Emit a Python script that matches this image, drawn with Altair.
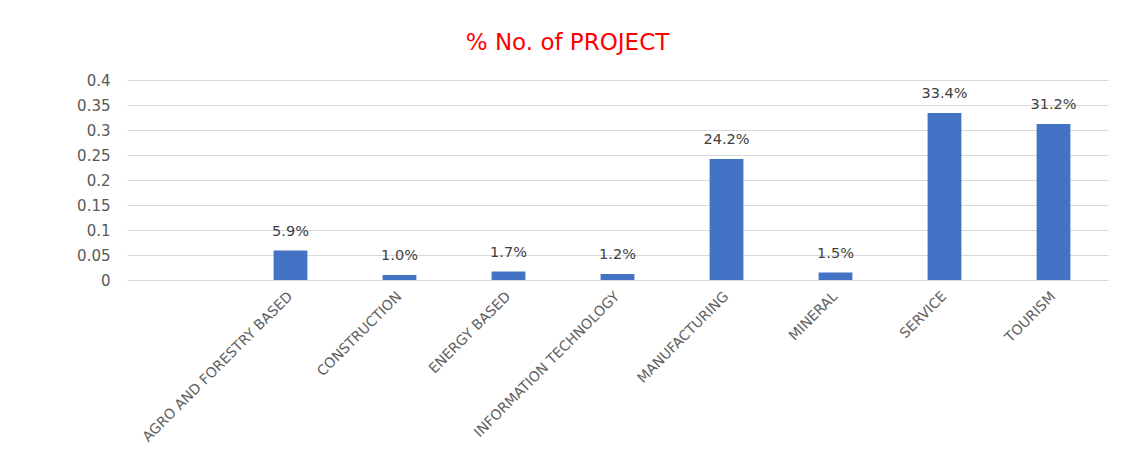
import altair as alt
import pandas as pd

categories = ["AGRO AND FORESTRY BASED", "CONSTRUCTION", "ENERGY BASED",
              "INFORMATION TECHNOLOGY", "MANUFACTURING", "MINERAL", "SERVICE", "TOURISM"]
values = [0.059, 0.010, 0.017, 0.012, 0.242, 0.015, 0.334, 0.312]
tick_values = [0, 0.05, 0.1, 0.15, 0.2, 0.25, 0.3, 0.35, 0.4]
domain = [" "] + categories

df = pd.DataFrame({"sector": categories, "share": values})

FONT = "DejaVu Sans"

x = alt.X("sector:N", sort=domain,
          scale=alt.Scale(domain=domain, paddingInner=0.69, paddingOuter=0.345),
          axis=alt.Axis(title=None, labelAngle=-45, labelAlign="right", labelBaseline="middle",
                        labelFontSize=14, labelColor="#5f5f5f", labelFont=FONT,
                        labelPadding=14, ticks=False, domain=False, grid=False, labelLimit=300))
y = alt.Y("share:Q",
          scale=alt.Scale(domain=[0, 0.4], nice=False),
          axis=alt.Axis(title=None, values=tick_values, labelOverlap=False,
                        format=".2~f", labelFontSize=15, labelColor="#595959", labelFont=FONT,
                        labelPadding=17, ticks=False, domain=False,
                        gridColor="#d9d9d9", gridWidth=1.2))

bars = alt.Chart(df).mark_bar(color="#4472C4").encode(x=x, y=y)
labels = alt.Chart(df).mark_text(dy=-12, baseline="bottom", fontSize=14.5, font=FONT,
                                 color="#404040").encode(
    x=x, y=y, text=alt.Text("share:Q", format=".1%"))

chart = (bars + labels).properties(
    width=981, height=200,
    title=alt.TitleParams("% No. of PROJECT", color="#FF0000", fontSize=23, font=FONT,
                          fontWeight="normal", anchor="middle", dx=-50, offset=18),
    autosize=alt.AutoSizeParams(type="none"),
    padding={"left": 119, "top": 72, "right": 16, "bottom": 169},
).configure_view(stroke=None)

chart.save("out.html", embed_options={"renderer": "svg", "actions": False})
